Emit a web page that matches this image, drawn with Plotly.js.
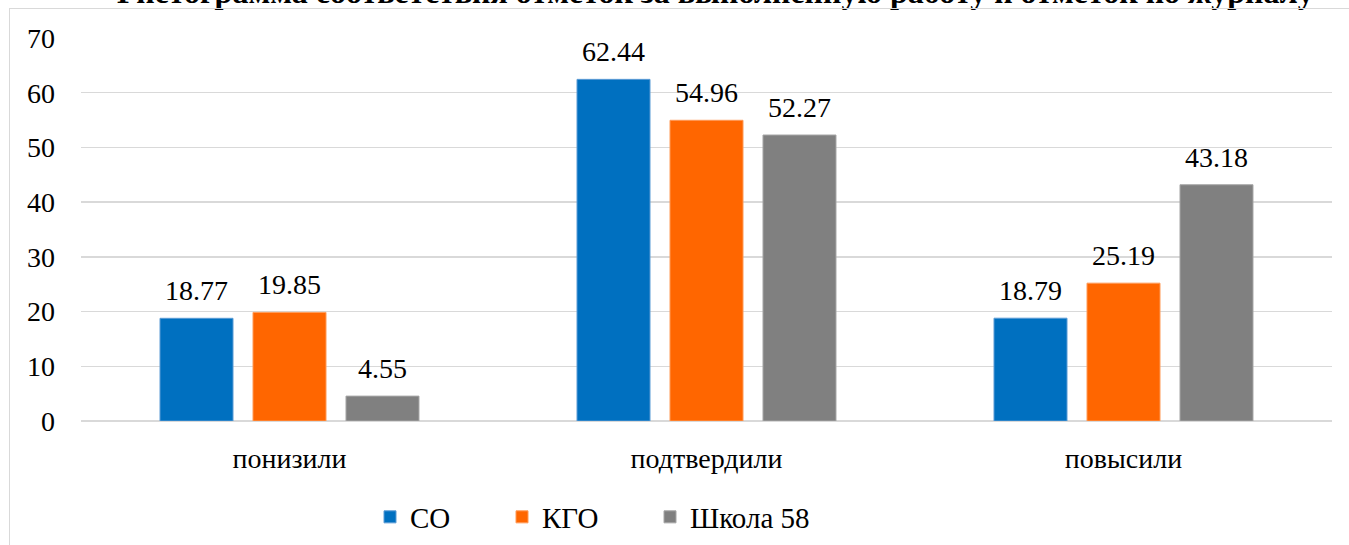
<!DOCTYPE html>
<html>
<head>
<meta charset="utf-8">
<script src="https://cdn.plot.ly/plotly-3.0.1.min.js"></script>
<style>
  html, body { margin: 0; padding: 0; background: #ffffff; overflow: hidden; }
  #wrap { position: relative; width: 1349px; height: 545px; }
  #chart { position: absolute; left: 0; top: 0; width: 1349px; height: 545px; }
  #frame { position: absolute; left: 9px; top: 8px; width: 1360px; height: 600px;
           border: 1.5px solid #d9d9d9; pointer-events: none; box-sizing: border-box; }
</style>
</head>
<body>
<div id="wrap">
  <div id="chart"></div>
  <div id="frame"></div>
</div>
<script>
const titleText = "Гистограмма соответствия отметок за выполненную работу и отметок по журналу";
const categories = ["понизили", "подтвердили", "повысили"];
const seriesNames = ["СО", "КГО", "Школа 58"];
const valuesSO = [18.77, 62.44, 18.79];
const valuesKGO = [19.85, 54.96, 25.19];
const valuesSchool = [4.55, 52.27, 43.18];
const yTicks = [0, 10, 20, 30, 40, 50, 60, 70];

const colors = ["#0070C0", "#FF6600", "#808080"];
const outlines = ["#5b9bd5", "#ff9a57", "#a6a6a6"];
const allValues = [valuesSO, valuesKGO, valuesSchool];
const font = "Liberation Serif";
const legendIds = ["legend", "legend2", "legend3"];
const legendLeft = [370, 502, 650];

const traces = allValues.map((vals, i) => ({
  type: "bar",
  name: seriesNames[i],
  x: categories,
  y: vals,
  legend: legendIds[i],
  marker: { color: colors[i], line: { color: outlines[i], width: 1 } },
  hoverinfo: "x+y+name"
}));

const shifts = [-93, 0, 93];
const annotations = [];
allValues.forEach((vals, i) => {
  vals.forEach((v, j) => {
    annotations.push({
      x: categories[j], y: v, xref: "x", yref: "y",
      text: v.toFixed(2), showarrow: false,
      xshift: shifts[i], yshift: 10, yanchor: "bottom",
      font: { family: font, size: 28, color: "#000000" }
    });
  });
});

annotations.push({
  text: "<b>" + titleText + "</b>",
  xref: "paper", yref: "paper",
  x: (715 - 81) / 1251, y: 1 + (38 + 8) / 383,
  xanchor: "center", yanchor: "middle", showarrow: false,
  font: { family: font, size: 32, color: "#000000" }
});

const layout = {
  width: 1349, height: 545,
  margin: { l: 81, r: 17, t: 38, b: 124 },
  paper_bgcolor: "rgba(0,0,0,0)",
  plot_bgcolor: "#ffffff",
  barmode: "group",
  bargap: 0.331,
  bargroupgap: 0.215,
  xaxis: {
    type: "category",
    tickfont: { family: font, size: 28, color: "#000000" },
    showgrid: false, zeroline: false, showline: false,
    ticks: "", ticklabelstandoff: 18
  },
  yaxis: {
    range: [0, 70],
    tickvals: yTicks,
    ticktext: yTicks.map(String),
    tickfont: { family: font, size: 28, color: "#000000" },
    showgrid: true, gridcolor: "#d9d9d9", gridwidth: 1.5,
    zeroline: true, zerolinecolor: "#d9d9d9", zerolinewidth: 1.5,
    showline: false, ticks: "", ticklabelstandoff: 25,
    fixedrange: true
  },
  showlegend: true,
  annotations: annotations
};

legendIds.forEach((id, i) => {
  layout[id] = {
    orientation: "h",
    x: legendLeft[i] / 1349, xanchor: "left", xref: "container",
    y: (545 - 517) / 545, yanchor: "middle", yref: "container",
    font: { family: font, size: 29, color: "#000000" },
    itemwidth: 30,
    bgcolor: "rgba(0,0,0,0)"
  };
});

Plotly.newPlot("chart", traces, layout, { displayModeBar: false, staticPlot: true });
</script>
</body>
</html>
